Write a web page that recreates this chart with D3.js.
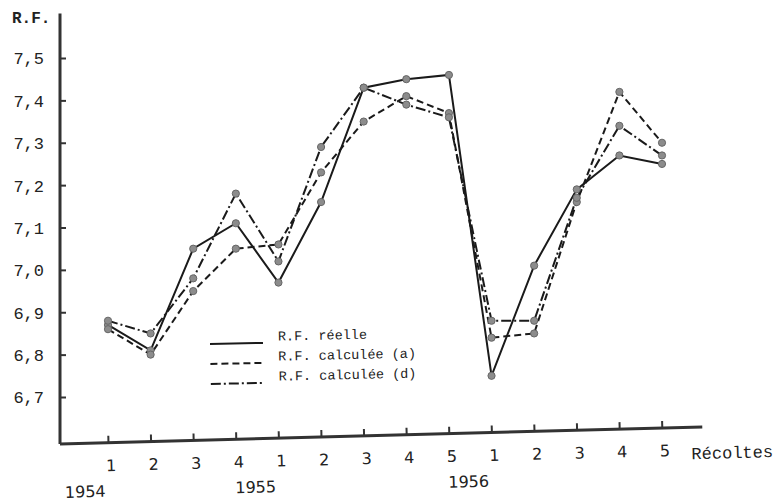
<!DOCTYPE html>
<html>
<head>
<meta charset="utf-8">
<script src="https://cdn.jsdelivr.net/npm/d3@7"></script>
<style>
  html, body { margin: 0; padding: 0; background: #fff; }
  svg { display: block; }
</style>
</head>
<body>
<svg id="chart" width="779" height="503"></svg>
<script>
// ---- data ----
const harvestLabels = ["1","2","3","4","1","2","3","4","5","1","2","3","4","5"];
const years = ["1954", "1955", "1956"];
const yearStartIndex = [0, 4, 9];
const yTicks = [6.7, 6.8, 6.9, 7.0, 7.1, 7.2, 7.3, 7.4, 7.5];
const seriesNames = ["R.F. réelle", "R.F. calculée (a)", "R.F. calculée (d)"];
const reelle    = [6.87, 6.81, 7.05, 7.11, 6.97, 7.16, 7.43, 7.45, 7.46, 6.75, 7.01, 7.19, 7.27, 7.25];
const calculeeA = [6.86, 6.80, 6.95, 7.05, 7.06, 7.23, 7.35, 7.41, 7.37, 6.84, 6.85, 7.16, 7.42, 7.30];
const calculeeD = [6.88, 6.85, 6.98, 7.18, 7.02, 7.29, 7.43, 7.39, 7.36, 6.88, 6.88, 7.17, 7.34, 7.27];

const series = [
  { name: seriesNames[0], values: reelle,    dash: null },
  { name: seriesNames[1], values: calculeeA, dash: "7,4" },
  { name: seriesNames[2], values: calculeeD, dash: "10,3,2,3" }
];

const svg = d3.select("#chart");
const axisX0 = 60;     // y-axis position
const axisY0 = 444;    // x-axis position at left

const x = d3.scaleLinear().domain([0, 13]).range([108, 662]);
const y = d3.scaleLinear().domain([6.7, 7.5]).range([397, 58]);

const mono = "'Liberation Mono', 'Courier New', monospace";
const sans = "'DejaVu Sans', sans-serif";

// ---- y axis ----
const gy = svg.append("g").attr("transform", `translate(${axisX0},0)`);
gy.call(d3.axisLeft(y).tickValues(yTicks)
  .tickFormat(d => d3.format(".1f")(d).replace(".", ","))
  .tickSizeInner(-6).tickSizeOuter(0).tickPadding(16));
gy.select(".domain").remove();
gy.selectAll(".tick line").attr("stroke", "#333").attr("stroke-width", 2);
gy.selectAll(".tick text").attr("font-family", mono).attr("font-size", 17)
  .attr("fill", "#222").attr("dy", "0.35em");
svg.append("line")
  .attr("x1", axisX0).attr("x2", axisX0)
  .attr("y1", y(7.605)).attr("y2", axisY0)
  .attr("stroke", "#333").attr("stroke-width", 3);
svg.append("text").attr("x", 12).attr("y", 23)
  .attr("font-family", mono).attr("font-size", 16).attr("font-weight", "bold")
  .attr("fill", "#222").text("R.F.");

// ---- x axis (slightly tilted, as in the scan) ----
const gxWrap = svg.append("g")
  .attr("transform", `rotate(-1.52, ${axisX0}, ${axisY0}) translate(0, ${axisY0})`);
const gx = gxWrap.append("g");
gx.call(d3.axisBottom(x).tickValues(d3.range(14))
  .tickFormat(i => harvestLabels[i])
  .tickSizeInner(-7).tickSizeOuter(0).tickPadding(17));
gx.select(".domain").remove();
gx.selectAll(".tick line").attr("stroke", "#333").attr("stroke-width", 2);
gx.selectAll(".tick text").attr("font-family", sans).attr("font-size", 16)
  .attr("fill", "#222").attr("dx", 2);
gxWrap.append("line")
  .attr("x1", axisX0).attr("x2", x(13.95))
  .attr("y1", 0).attr("y2", 0)
  .attr("stroke", "#333").attr("stroke-width", 3);
gxWrap.selectAll(".year").data(years).join("text")
  .attr("class", "year")
  .attr("x", (d, i) => x(yearStartIndex[i]) - 24)
  .attr("y", 54)
  .attr("text-anchor", "middle")
  .attr("font-family", sans).attr("font-size", 16).attr("fill", "#222")
  .text(d => d);
gxWrap.append("text")
  .attr("x", x(13.68)).attr("y", 32)
  .attr("font-family", mono).attr("font-size", 17).attr("fill", "#222")
  .text("Récoltes");

// ---- lines ----
const line = d3.line().x((d, i) => x(i)).y(d => y(d));
const plot = svg.append("g");
series.forEach(s => {
  plot.append("path")
    .datum(s.values)
    .attr("d", line)
    .attr("fill", "none")
    .attr("stroke", "#1a1a1a")
    .attr("stroke-width", 2)
    .attr("stroke-dasharray", s.dash);
});
series.forEach(s => {
  plot.selectAll(null).data(s.values).join("circle")
    .attr("cx", (d, i) => x(i))
    .attr("cy", d => y(d))
    .attr("r", 3.6)
    .attr("fill", "#8c8c8c")
    .attr("stroke", "#666")
    .attr("stroke-width", 1);
});

// ---- legend ----
const legend = svg.append("g").attr("transform", "rotate(-1.2, 210, 344)");
series.forEach((s, i) => {
  const ly = 344 + i * 20;
  legend.append("line")
    .attr("x1", 210).attr("x2", 263)
    .attr("y1", ly).attr("y2", ly)
    .attr("stroke", "#1a1a1a").attr("stroke-width", 2)
    .attr("stroke-dasharray", s.dash);
  legend.append("text")
    .attr("x", 278).attr("y", ly - 2)
    .attr("font-family", mono).attr("font-size", 13.5).attr("fill", "#222")
    .text(s.name);
});
</script>
</body>
</html>
